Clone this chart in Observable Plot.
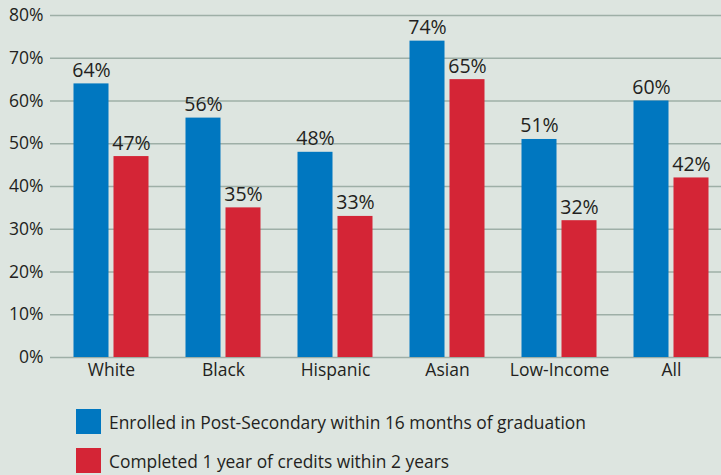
<!DOCTYPE html>
<html>
<head>
<meta charset="utf-8">
<script src="https://cdn.jsdelivr.net/npm/d3@7"></script>
<script src="https://cdn.jsdelivr.net/npm/@observablehq/plot@0.6"></script>
<style>
  html, body { margin: 0; padding: 0; background: #dde5e0; width: 721px; height: 475px; overflow: hidden; }
  body { font-family: "Open Sans", sans-serif; color: #231f20; }
  #legend { margin-top: 14px; padding-left: 76px; }
  .row { display: flex; align-items: center; height: 25px; margin-bottom: 14px; font-size: 17.4px; }
  .sw { width: 25px; height: 25px; margin-right: 8px; }
</style>
</head>
<body>
<div id="chart"></div>
<div id="legend"></div>
<script>
const categories = ["White", "Black", "Hispanic", "Asian", "Low-Income", "All"];
const enrolled = [64, 56, 48, 74, 51, 60];
const completed = [47, 35, 33, 65, 32, 42];
const seriesNames = ["Enrolled in Post-Secondary within 16 months of graduation", "Completed 1 year of credits within 2 years"];
const seriesColors = ["#0077c0", "#d42536"];
const yTicks = [0, 10, 20, 30, 40, 50, 60, 70, 80];

const enr = categories.map((c, i) => ({cat: c, v: enrolled[i]}));
const comp = categories.map((c, i) => ({cat: c, v: completed[i]}));

const plot = Plot.plot({
  width: 721,
  height: 395,
  marginLeft: 50,
  marginRight: 0,
  marginTop: 15,
  marginBottom: 38,
  style: {background: "transparent", fontFamily: "Open Sans, sans-serif", fontSize: "17.5px", color: "#231f20"},
  x: {domain: categories, range: [54.5, 726.5], padding: 0, label: null, tickSize: 0, tickPadding: 6},
  y: {domain: [0, 80], ticks: yTicks, tickFormat: d => d + "%", label: null, tickSize: 0, tickPadding: 7},
  marks: [
    Plot.ruleY(yTicks, {stroke: "#9eafa7", strokeWidth: 1.6}),
    Plot.barY(enr, {x: "cat", y: "v", fill: seriesColors[0], insetLeft: 18.5, insetRight: 58.5}),
    Plot.barY(comp, {x: "cat", y: "v", fill: seriesColors[1], insetLeft: 58.5, insetRight: 18.5}),
    Plot.text(enr, {x: "cat", y: "v", text: d => d.v + "%", dx: -20, dy: -7, lineAnchor: "bottom", fontSize: 19.5, fill: "#231f20"}),
    Plot.text(comp, {x: "cat", y: "v", text: d => d.v + "%", dx: 20, dy: -7, lineAnchor: "bottom", fontSize: 19.5, fill: "#231f20"})
  ]
});
document.getElementById("chart").appendChild(plot);

const legend = document.getElementById("legend");
seriesNames.forEach((n, i) => {
  const row = document.createElement("div");
  row.className = "row";
  const sw = document.createElement("div");
  sw.className = "sw";
  sw.style.background = seriesColors[i];
  const t = document.createElement("span");
  t.textContent = n;
  row.appendChild(sw);
  row.appendChild(t);
  legend.appendChild(row);
});
</script>
</body>
</html>
